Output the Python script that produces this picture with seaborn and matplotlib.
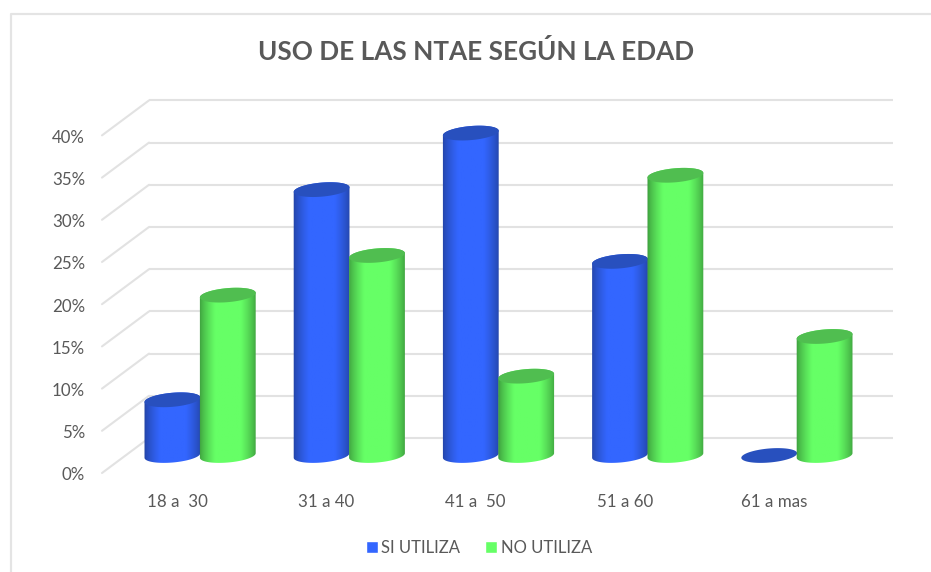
import numpy as np
import pandas as pd
import matplotlib
matplotlib.use("Agg")
import matplotlib.pyplot as plt
import seaborn as sns
from matplotlib.lines import Line2D
from matplotlib.path import Path
from matplotlib.patches import Polygon
from matplotlib.transforms import Affine2D, IdentityTransform

# datos
edades = ["18 a  30", "31 a 40", "41 a  50", "51 a 60", "61 a mas"]
si_utiliza = [6.6, 31.5, 38.2, 23.0, 0.0]
no_utiliza = [19.0, 23.7, 9.4, 33.2, 14.1]
y_ticks = [0, 5, 10, 15, 20, 25, 30, 35, 40]

W, H = 931, 572
DX, DY = 23.5, 17.5  # profundidad del piso 3D en pixeles

sns.set_theme(style="white")
plt.rcParams["font.family"] = ["Lato", "DejaVu Sans"]

df = pd.DataFrame({
    "edad": edades * 2,
    "serie": ["SI UTILIZA"] * 5 + ["NO UTILIZA"] * 5,
    "valor": si_utiliza + no_utiliza,
})

fig = plt.figure(figsize=(W / 100, H / 100), dpi=100)
ax = fig.add_axes([125.5 / W, 1 - 455.5 / H, 746 / W, 354.5 / H])
ax.patch.set_alpha(0)

colors = {"SI UTILIZA": "#3366FF", "NO UTILIZA": "#66FF66"}
sns.barplot(data=df, x="edad", y="valor", hue="serie", palette=colors, width=0.7425,
            gap=0, saturation=1, ax=ax, legend=True, zorder=3)
ax.set_xlim(-0.5, 4.5)
ax.set_ylim(0, 42)
ax.set_autoscale_on(False)
ax.set_xlabel("")
ax.set_ylabel("")
sns.despine(ax=ax, left=True, bottom=True, top=True, right=True)

grid_c = "#e2e2e2"
back = Affine2D().translate(DX, DY)
ax.hlines(y_ticks, -0.5, 4.485, color=grid_c, lw=1.5, transform=ax.transData + back, zorder=1, clip_on=False)
for v in y_ticks:
    x, y = ax.transData.transform((-0.5, v))
    ax.add_line(Line2D([x - DX, x + DX], [y - DY, y + DY], color=grid_c, lw=1.5,
                       transform=IdentityTransform(), zorder=1, clip_on=False))

# marco de la imagen
fig.add_artist(Line2D([10.5 / W, 10.5 / W, 1], [0, 1 - 13.5 / H, 1 - 13.5 / H], color="#e4e4e4", lw=1.6))

# ticks sobre el plano frontal
ax.set_yticks(y_ticks)
ax.set_yticklabels([f"{v}%" for v in y_ticks], fontsize=12.2, color="#595959")
ax.tick_params(axis="both", length=0)
ax.tick_params(axis="y", pad=0)
shift_y = Affine2D().translate(-DX - 17, -DY - 1)
for lab in ax.get_yticklabels():
    lab.set_transform(lab.get_transform() + shift_y)
ax.set_xticks(range(5))
ax.set_xticklabels(edades, fontsize=12.2, color="#595959")
shift_x = Affine2D().translate(-DX + 0.5, -34)
for lab in ax.get_xticklabels():
    lab.set_transform(lab.get_transform() + shift_x)

fig.text(476 / W, 1 - 52 / H, "USO DE LAS NTAE SEGÚN LA EDAD", fontsize=18.8, fontweight="bold",
         color="#595959", ha="center", va="center")

# cilindros a partir de las barras de seaborn
gradients = {"#3366FF": ("#2242A0", "#3366FF"), "#66FF66": ("#3B993B", "#66FF66")}
caps = {"#3366FF": "#2850BE", "#66FF66": "#50BE50"}
TILT = np.deg2rad(5)
B = 7.0
t_arc = np.linspace(0, 2 * np.pi, 90)


def ring(cx, cy, a, t):
    xs = cx + a * np.cos(t) * np.cos(TILT) - B * np.sin(t) * np.sin(TILT)
    ys = cy + a * np.cos(t) * np.sin(TILT) + B * np.sin(t) * np.cos(TILT)
    return np.column_stack([xs, ys])


bars = [p for p in ax.patches if p.get_width() > 0][:10]
for i, p in enumerate(bars):
    face = matplotlib.colors.to_hex(p.get_facecolor()).upper()
    edge, mid = gradients[face]
    x0, _ = ax.transData.transform((p.get_x(), 0))
    x1, base = ax.transData.transform((p.get_x() + p.get_width(), 0))
    _, top = ax.transData.transform((0, p.get_height()))
    p.set_visible(False)
    cx = (x0 + x1) / 2
    a = (x1 - x0) / 2 + 0.3
    z = 3 + (0.5 if face == "#66FF66" else 0) + i * 0.01
    if p.get_height() > 0:
        lower = ring(cx, base, a, np.linspace(np.pi, 2 * np.pi, 40))
        upper = ring(cx, top, a, np.linspace(0, np.pi, 40))
        outline = np.vstack([lower, upper, lower[:1]])
        c0 = np.array(matplotlib.colors.to_rgb(edge))
        c1 = np.array(matplotlib.colors.to_rgb(mid))
        u = np.linspace(0, 1, 64)
        k = np.clip(1 - np.abs(u - 0.5) / 0.5, 0, 1) / 0.55
        k = np.clip(k, 0, 1) ** 0.7
        img = (c0 + (c1 - c0) * k[:, None])[None, :, :]
        inv = ax.transData.inverted()
        (dx0, dy0), (dx1, dy1) = inv.transform([(x0 - 1, base - 12), (x1 + 1, top + 12)])
        im = ax.imshow(img, extent=(dx0, dx1, dy0, dy1), aspect="auto", zorder=z, interpolation="bilinear")
        im.set_clip_box(fig.bbox)
        im.set_clip_path(Path(outline), IdentityTransform())
    ax.add_patch(Polygon(ring(cx, top, a, t_arc), closed=True, facecolor=caps[face], edgecolor="none",
                         transform=IdentityTransform(), zorder=z + 0.001, clip_on=False))

ax.set_xlim(-0.5, 4.5)
ax.set_ylim(0, 42)

leg = ax.legend(loc="center", bbox_to_anchor=(479 / W, 1 - 548 / H), bbox_transform=fig.transFigure, ncol=2,
                frameon=False, fontsize=12, handlelength=0.72, handleheight=0.72, handletextpad=0.2,
                columnspacing=1.5, labelcolor="#595959")
for t in leg.get_texts():
    t.set_color("#595959")

fig.savefig("out.png", dpi=100)
